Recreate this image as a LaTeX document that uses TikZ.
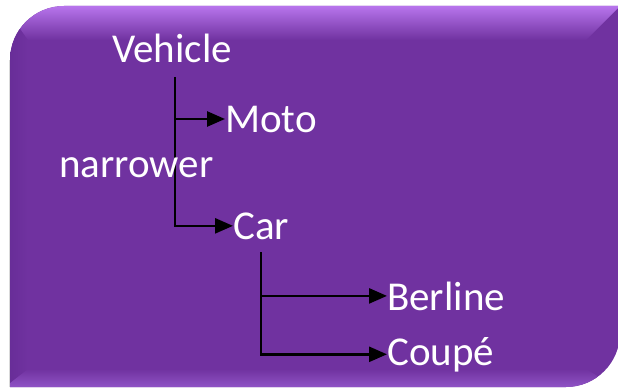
\documentclass[tikz,border=0pt]{standalone}
\usepackage{fontspec}
\setmainfont{Carlito}
\usetikzlibrary{arrows.meta}

\definecolor{panel}{RGB}{112,50,160}
\definecolor{panelhi}{RGB}{196,128,250}
\definecolor{panellow}{RGB}{100,43,148}
\definecolor{panelbot}{RGB}{150,90,205}

\pgfdeclarelayer{panel}
\pgfdeclarelayer{lines}
\pgfsetlayers{panel,lines,main}

\tikzset{
  label/.style={text=white, inner sep=0pt, anchor=base west,
    font=\fontsize{41}{49}\selectfont},
  branch/.style={draw=black, line width=2.6pt},
  brancharrow/.style={branch, -{Triangle[length=18pt,width=15pt]}},
}

\begin{document}
\begin{tikzpicture}[x=1pt,y=1pt]
  \useasboundingbox (0,0) rectangle (618,389);

  % panel outline: rounded top-left and bottom-right corners
  \def\panelpath{(10,2) -- (10,329) arc[start angle=180,end angle=90,radius=54]
     -- (620,383) -- (620,56) arc[start angle=0,end angle=-90,radius=54] -- cycle}

  \begin{pgfonlayer}{panel}
    \draw[gray!30, line width=1pt] (9.5,2) -- (9.5,329);
    \fill[panel] \panelpath;
    \begin{scope}
      \clip \panelpath;
      % left bevel, slightly darker
      \shade[left color=panellow, right color=panel]
        (0,-2) -- (28,20) -- (28,349) -- (0,389) -- cycle;
      % bottom bevel, lighter towards the edge
      \shade[bottom color=panelbot, top color=panel]
        (0,-2) -- (28,20) -- (586,20) -- (622,-2) -- cycle;
      % top bevel highlight
      \shade[top color=panelhi, bottom color=panel]
        (0,389) -- (28,349) -- (586,349) -- (622,385) -- (622,389) -- cycle;
    \end{scope}
  \end{pgfonlayer}

  % labels
  \node[label] (vehicle)  at (112,326) {Vehicle};
  \node[label] (moto)     at (225,257) {Moto};
  \node[label] (narrower) at (59,212)  {narrower};
  \node[label] (car)      at (233,150) {Car};
  \node[label] (berline)  at (387,79)  {Berline};
  \node[label] (coupe)    at (387,24)  {Coupé};

  % branch roots
  \coordinate (vroot) at (175,312);
  \coordinate (croot) at (261,137);

  % connectors, kept beneath the labels
  \begin{pgfonlayer}{lines}
    \draw[brancharrow] (vroot) |- (car.west);
    \draw[brancharrow] (vroot |- moto.west) -- (moto.west);
    \draw[brancharrow] (croot) |- (coupe.west);
    \draw[brancharrow] (croot |- berline.west) -- (berline.west);
  \end{pgfonlayer}
\end{tikzpicture}
\end{document}
